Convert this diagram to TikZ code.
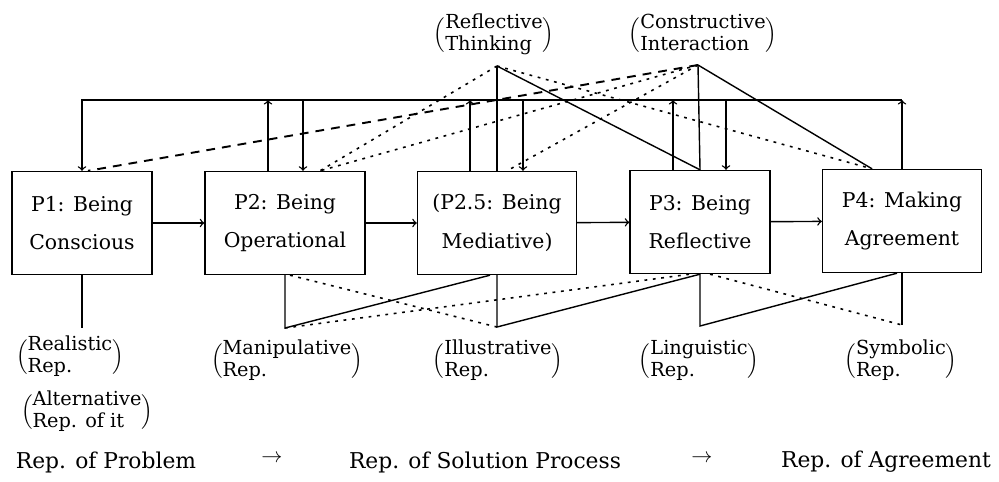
\documentclass[tikz,border=0pt]{standalone}
\usepackage{amsmath}
\usepackage{fontspec}
\setmainfont{DejaVu Serif}
\usepackage{tikz}

\newcommand{\bracketed}[2]{$\Bigl(\begin{tabular}{@{}l@{}}#1\\#2\end{tabular}\Bigr)$}

\tikzset{
  phase/.style={draw, line width=0.8pt, minimum height=2.06cm, inner sep=0pt,
    align=center, font=\fontsize{11.6}{22}\selectfont},
  link/.style={line width=0.8pt},
  dotline/.style={line width=0.9pt, dash pattern=on 1.6pt off 3.2pt},
  dashline/.style={line width=1.1pt, dash pattern=on 5pt off 4pt},
  replabel/.style={inner sep=0pt, font=\fontsize{11}{12.5}\selectfont},
  rowlabel/.style={inner sep=0pt, font=\fontsize{12.4}{14}\selectfont},
}

\begin{document}
\begin{tikzpicture}[x=0.02cm, y=-0.02cm]
    \useasboundingbox (0,0) rectangle (999,481);

    % Phases
    \node[phase, minimum width=2.8cm]  (p1)  at (82,223)  {P1: Being\\Conscious};
    \node[phase, minimum width=3.2cm]  (p2)  at (285,223) {P2: Being\\Operational};
    \node[phase, minimum width=3.18cm] (p25) at (497,223) {(P2.5: Being\\Mediative)};
    \node[phase, minimum width=2.8cm]  (p3)  at (700,222) {P3: Being\\Reflective};
    \node[phase, minimum width=3.18cm] (p4)  at (902,221) {P4: Making\\Agreement};

    \foreach \a/\b in {p1/p2, p2/p25, p25/p3, p3/p4}
        \draw[link,->] (\a) -- (\b);

    % Loop over the top
    \coordinate (loop) at (82,100);
    \draw[link,->] (p4.north) -- (p4.north |- loop);
    \draw[link,->] (p4.north |- loop) -- (p1.north |- loop) -- (p1.north);
    \foreach \p/\u/\d in {p2/-0.34/0.36, p25/-0.54/0.52, p3/-0.54/0.52} {
        \draw[link,->] ([xshift=\u cm]\p.north) -- ([xshift=\u cm]\p.north |- loop);
        \draw[link,->] ([xshift=\d cm]\p.north |- loop) -- ([xshift=\d cm]\p.north);
    }

    % Reflective thinking
    \coordinate (rt) at (497,66);
    \node[replabel] (lRT) at (494,35) {\bracketed{Reflective}{Thinking}};
    \draw[link] (rt) -- (p25.north);
    \draw[link] (rt) -- (p3.north);
    \draw[dotline] (rt) -- ([xshift=0.7cm]p2.north);
    \draw[dotline] (rt) -- ([xshift=-0.6cm]p4.north);

    % Constructive interaction
    \coordinate (ci) at (698,65);
    \node[replabel] (lCI) at (703,35) {\bracketed{Constructive}{Interaction}};
    \draw[link] (ci) -- (p3.north);
    \draw[link] (ci) -- ([xshift=-0.6cm]p4.north);
    \draw[dotline] (ci) -- ([xshift=0.7cm]p2.north);
    \draw[dotline] (ci) -- ([xshift=0.2cm]p25.north);
    \draw[dashline] (ci) -- ([xshift=0.12cm]p1.north);

    % Representations
    \coordinate (rA) at (82,328);
    \coordinate (rM) at (285,328);
    \coordinate (rI) at (497,327);
    \coordinate (rL) at (700,326);
    \coordinate (rS) at (902,325);
    \draw[link] (p1.south) -- (rA);
    \draw[link] (p2.south) -- (rM) -- ([xshift=-0.14cm]p25.south);
    \draw[link] (p25.south) -- (rI) -- (p3.south);
    \draw[link] (p3.south) -- (rL) -- ([xshift=-0.1cm]p4.south);
    \draw[link] (p4.south) -- (rS);
    \draw[dotline] ([xshift=0.1cm]p2.south) -- (rI);
    \draw[dotline] (rM) -- ([xshift=-0.2cm]p3.south);
    \draw[dotline] ([xshift=0.2cm]p3.south) -- (rS);

    \node[replabel] (lRea) at (70,357)  {\bracketed{Realistic}{Rep.}};
    \node[replabel] (lAlt) at (87,412)  {\bracketed{Alternative}{Rep. of it}};
    \node[replabel] (lMan) at (287,361) {\bracketed{Manipulative}{Rep.}};
    \node[replabel] (lIll) at (498,361) {\bracketed{Illustrative}{Rep.}};
    \node[replabel] (lLin) at (699,361) {\bracketed{Linguistic}{Rep.}};
    \node[replabel] (lSym) at (901,361) {\bracketed{Symbolic}{Rep.}};

    % Bottom row
    \node[rowlabel] (rProb) at (106,462) {Rep. of Problem};
    \node[rowlabel] (arr1)  at (272,459) {$\rightarrow$};
    \node[rowlabel] (rSol)  at (485,462) {Rep. of Solution Process};
    \node[rowlabel] (arr2)  at (702,459) {$\rightarrow$};
    \node[rowlabel] (rAgr)  at (886,462) {Rep. of Agreement};
\end{tikzpicture}
\end{document}
